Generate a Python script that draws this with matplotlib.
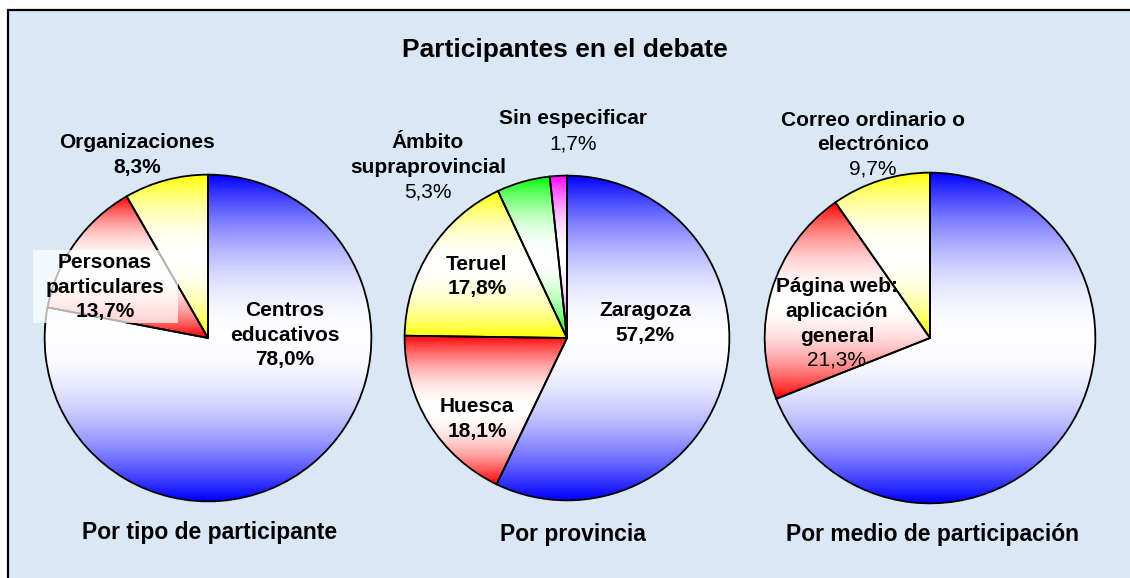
import numpy as np
import matplotlib.pyplot as plt
from matplotlib.colors import LinearSegmentedColormap, to_rgb
from matplotlib.patches import Rectangle

plt.rcParams['font.family'] = ['Liberation Sans', 'DejaVu Sans']

W, H = 1130, 578

# Data
title = 'Participantes en el debate'

tipo_title = 'Por tipo de participante'
tipo_labels = ['Centros\neducativos', 'Personas\nparticulares', 'Organizaciones']
tipo_values = [78.0, 13.7, 8.3]

prov_title = 'Por provincia'
prov_labels = ['Zaragoza', 'Huesca', 'Teruel', 'Ámbito\nsupraprovincial', 'Sin especificar']
prov_values = [57.2, 18.1, 17.8, 5.3, 1.7]

medio_title = 'Por medio de participación'
medio_labels = ['', 'Página web:\naplicación\ngeneral', 'Correo ordinario o\nelectrónico']
medio_values = [69.0, 21.3, 9.7]

colors = ['#0000FF', '#FF0000', '#FFFF00', '#00FF00', '#FF00FF']

# Layout (pixels in the picture): pie centre, radius, label spots, bold percent
pies = [
    dict(values=tipo_values, labels=tipo_labels, title=tipo_title,
         center=(208, 338), r=165, title_xy=(210, 532),
         label_xy=[(285, 311), (105, 263), (137, 143)],
         pct_bold=[True, True, True]),
    dict(values=prov_values, labels=prov_labels, title=prov_title,
         center=(567, 338), r=164, title_xy=(573, 535),
         label_xy=[(645, 311), (477, 407), (477, 264), (428, 143), (573, 119)],
         pct_bold=[True, True, True, False, False]),
    dict(values=medio_values, labels=medio_labels, title=medio_title,
         center=(930, 338), r=167, title_xy=(932, 535),
         label_xy=[None, (837, 287), (873, 120)],
         pct_bold=[False, False, False]),
]

step = 24.5

fig = plt.figure(figsize=(W / 100, H / 100), dpi=100)
fig.patch.set_facecolor('white')

# background panel
bg = fig.add_axes([0, 0, 1, 1])
bg.set_xlim(0, W)
bg.set_ylim(H, 0)
bg.axis('off')
bg.add_patch(Rectangle((8, 10), W + 20, H + 20, facecolor='#DAE8F6',
                       edgecolor='black', lw=1.6))


def fill_gradient(ax, w, color):
    t = np.radians(np.linspace(w.theta1, w.theta2, 200))
    xs = np.r_[w.center[0], w.center[0] + w.r * np.cos(t)]
    ys = np.r_[w.center[1], w.center[1] + w.r * np.sin(t)]
    # colour at the top and bottom of the wedge, white in the middle
    c = np.array(to_rgb(color))
    s = np.linspace(0, 1, 11)
    mix = 1 - (1 - s) ** 2
    stops = [tuple(c + (1 - c) * m) for m in mix]
    cmap = LinearSegmentedColormap.from_list('g', stops + stops[::-1][1:])
    grad = np.linspace(0, 1, 256).reshape(-1, 1)
    im = ax.imshow(grad, cmap=cmap, origin='lower', aspect='auto',
                   extent=[xs.min(), xs.max(), ys.min(), ys.max()], zorder=1)
    im.set_clip_path(w)
    w.set_facecolor('none')
    w.set_zorder(2)


for p in pies:
    cx, cy = p['center']
    r = p['r']
    ax = fig.add_axes([(cx - r) / W, 1 - (cy + r) / H, 2 * r / W, 2 * r / H])
    wedges, _ = ax.pie(p['values'], colors=colors[:len(p['values'])],
                       startangle=90, counterclock=False,
                       wedgeprops=dict(edgecolor='black', linewidth=1.3))
    for w, c in zip(wedges, colors):
        fill_gradient(ax, w, c)
    ax.set_xlim(-1.01, 1.01)
    ax.set_ylim(-1.01, 1.01)
    ax.axis('off')

# overlay for text
top = fig.add_axes([0, 0, 1, 1])
top.set_xlim(0, W)
top.set_ylim(H, 0)
top.axis('off')
top.patch.set_alpha(0)

top.text(565, 50, title, ha='center', va='center', fontsize=19, fontweight='bold')

# half-transparent box behind "Personas particulares"
top.add_patch(Rectangle((33, 250), 145, 73, facecolor='white', alpha=0.7,
                        edgecolor='none'))

for p in pies:
    top.text(p['title_xy'][0], p['title_xy'][1], p['title'], ha='center',
             va='center', fontsize=16.5, fontweight='bold')
    for lab, v, xy, pb in zip(p['labels'], p['values'], p['label_xy'], p['pct_bold']):
        if xy is None:
            continue
        x, y = xy
        lines = lab.split('\n')
        for i, ln in enumerate(lines):
            top.text(x, y + i * step, ln, ha='center', va='center',
                     fontsize=15, fontweight='bold')
        pct = ('%.1f' % v).replace('.', ',') + '%'
        top.text(x, y + len(lines) * step, pct, ha='center', va='center',
                 fontsize=15, fontweight='bold' if pb else 'normal')

fig.savefig('out.png', dpi=100)
